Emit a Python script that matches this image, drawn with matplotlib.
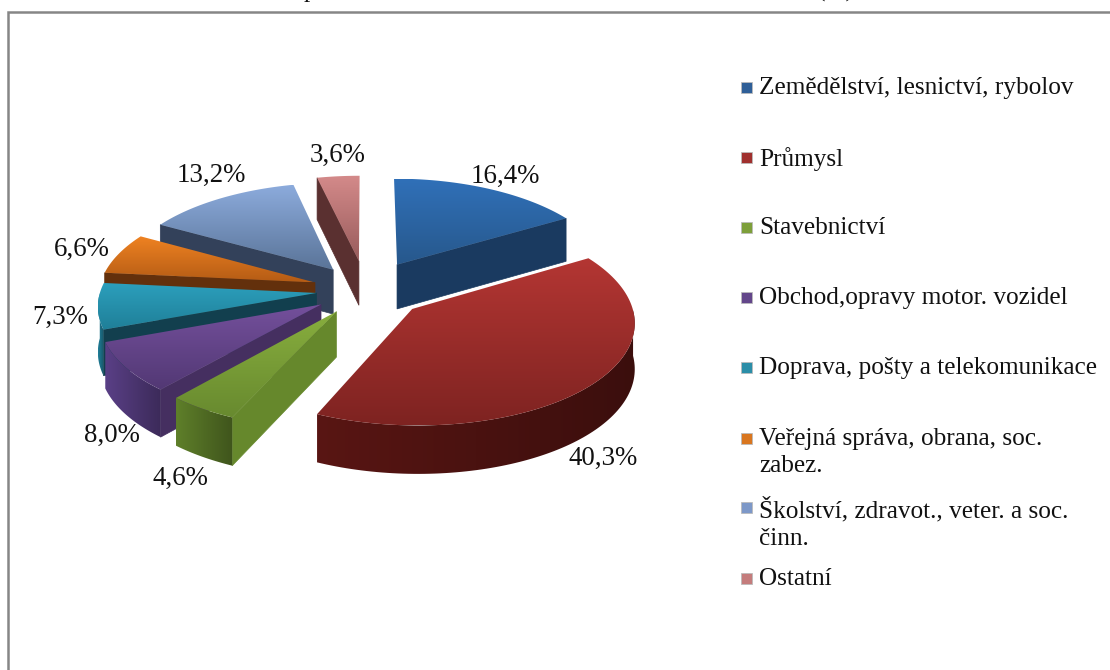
import numpy as np
import matplotlib
matplotlib.use("Agg")
import matplotlib.pyplot as plt
from matplotlib.patches import Polygon, Rectangle
from matplotlib.colors import LinearSegmentedColormap, to_rgb

# ---- data ----
categories = ["Zemědělství, lesnictví, rybolov", "Průmysl", "Stavebnictví",
              "Obchod,opravy motor. vozidel", "Doprava, pošty a telekomunikace",
              "Veřejná správa, obrana, soc.\nzabez.",
              "Školství, zdravot., veter. a soc.\nčinn.", "Ostatní"]
values = [16.4, 40.3, 4.6, 8.0, 7.3, 6.6, 13.2, 3.6]

# ---- style ----
explode = [0.30, 0.28, 0.25, 0.25, 0.23, 0.25, 0.26, 0.30]
top_hi = ["#3070b8", "#b43633", "#88ae3e", "#74509c", "#2c9fbc", "#f08322", "#8cabdc", "#d48a8a"]
top_lo = ["#27588c", "#7e2321", "#688a2f", "#523874", "#1f7f98", "#b55c15", "#5a7498", "#985c5c"]
radial_col = ["#1a3a60", "#4a1210", "#66882c", "#452f60", "#123f4e", "#63300c", "#33415a", "#5a3030"]
rim_col = ["#1a3a60", "#4a1210", "#4f6a23", "#4b3570", "#1c6a80", "#63300c", "#33415a", "#5a3030"]
marker_col = ["#2f5f98", "#a0302e", "#7d9f3a", "#63468a", "#2b8ea8", "#d9761f", "#7d98c8", "#c47c7c"]
draw_order = [7, 0, 6, 5, 4, 3, 2, 1]
label_pos = [(505, 176), (603, 458), (180, 478), (112, 435), (60, 317), (82, 249), (211, 175), (338, 155)]
legend_y = [87, 157, 227, 297, 367, 438, 507, 578]
FONT = "Liberation Serif"
FS = 18.2
LABEL_FS = 19.4

fig = plt.figure(figsize=(11.10, 6.70), dpi=100, facecolor="white")

# Wedge geometry comes from matplotlib's own pie layout on a hidden helper axes
helper = fig.add_axes([0, 0, 0.1, 0.1])
wedges, _ = helper.pie(values, explode=explode, startangle=90, counterclock=False, radius=1)
helper.set_visible(False)

ax = fig.add_axes([0, 0, 1, 1])
ax.set_xlim(0, 1110)
ax.set_ylim(670, 0)
ax.axis("off")

CX, CY, RX, RY, KX, KY, DEPTH = 366, 290, 216, 100, 0.11, 0.105, 45


def project(u, v, z=0.0):
    u, v = np.asarray(u, float), np.asarray(v, float)
    sx = CX + RX * u / (1 + KX * v)
    sy = CY - RY * v / (1 + KY * v) + z * DEPTH / (1 + 0.06 * v)
    return sx, sy


def scaled(color, f):
    return tuple(min(1.0, c * f) for c in to_rgb(color))


def gradient_fill(pts, c0, c1, zo, horizontal=False):
    pts = np.asarray(pts)
    poly = Polygon(pts, closed=True, facecolor="none", edgecolor="none", zorder=zo)
    ax.add_patch(poly)
    cmap = LinearSegmentedColormap.from_list("g", [c0, c1])
    ramp = np.linspace(0, 1, 128)
    arr = ramp[None, :] if horizontal else ramp[:, None]
    im = ax.imshow(arr, cmap=cmap, aspect="auto", zorder=zo,
                   extent=(pts[:, 0].min(), pts[:, 0].max(), pts[:, 1].max(), pts[:, 1].min()))
    im.set_clip_path(poly)


zo = 2
for i in draw_order:
    w = wedges[i]
    cu, cv = w.center
    th1, th2 = np.radians(w.theta1), np.radians(w.theta2)
    t = np.linspace(th1, th2, 120)
    arc_u, arc_v = cu + np.cos(t), cv + np.sin(t)
    mid = (th1 + th2) / 2

    # radial side faces that look toward the viewer
    for th in (th1, th2):
        n_u, n_v = -np.sin(th), np.cos(th)
        if n_u * np.cos(mid) + n_v * np.sin(mid) > 0:
            n_u, n_v = -n_u, -n_v
        if n_v < -1e-3:
            eu, ev = cu + np.cos(th), cv + np.sin(th)
            x0, y0 = project(cu, cv)
            x1, y1 = project(eu, ev)
            xb1, yb1 = project(eu, ev, 1)
            xb0, yb0 = project(cu, cv, 1)
            ax.add_patch(Polygon([(x0, y0), (x1, y1), (xb1, yb1), (xb0, yb0)], closed=True,
                                 facecolor=radial_col[i], edgecolor=radial_col[i], lw=0.5, zorder=zo))
    # outer rim: the part of the arc that looks toward the viewer
    front = np.sin(t) < 0
    if front.any():
        xt, yt = project(arc_u[front], arc_v[front])
        xb, yb = project(arc_u[front], arc_v[front], 1)
        rim = np.r_[np.c_[xt, yt], np.c_[xb, yb][::-1]]
        gradient_fill(rim, scaled(rim_col[i], 1.2), scaled(rim_col[i], 0.8), zo + 0.1, horizontal=True)
    # top face with a vertical gradient
    sx, sy = project(np.r_[cu, arc_u], np.r_[cv, arc_v])
    gradient_fill(np.c_[sx, sy], top_hi[i], top_lo[i], zo + 0.2)
    zo += 1

ax.set_xlim(0, 1110)
ax.set_ylim(670, 0)

# value labels
for v, (x, y) in zip(values, label_pos):
    ax.text(x, y, f"{v:.1f}".replace(".", ",") + "%", ha="center", va="center",
            family=FONT, fontsize=LABEL_FS, color="#111111", zorder=50)

# legend
for name, y, c in zip(categories, legend_y, marker_col):
    ax.add_patch(Rectangle((741, y - 5), 11, 11, facecolor=c, edgecolor="#bbbbbb", lw=0.6, zorder=50))
    ax.text(759, y - 10, name, ha="left", va="top", family=FONT, fontsize=FS,
            color="#111111", linespacing=1.3, zorder=50)

# chart frame
ax.plot([8, 8, 1110], [670, 12, 12], color="#868686", lw=1.8, solid_joinstyle="miter",
        clip_on=False, zorder=60)

# title fragments cut off by the top of the picture
ax.text(310, -3, "p", ha="center", va="baseline", family=FONT, fontsize=FS, color="#111111", clip_on=False)
ax.text(836, -3, "(%)", ha="center", va="baseline", family=FONT, fontsize=FS, color="#111111", clip_on=False)

fig.savefig("out.png", dpi=100)
